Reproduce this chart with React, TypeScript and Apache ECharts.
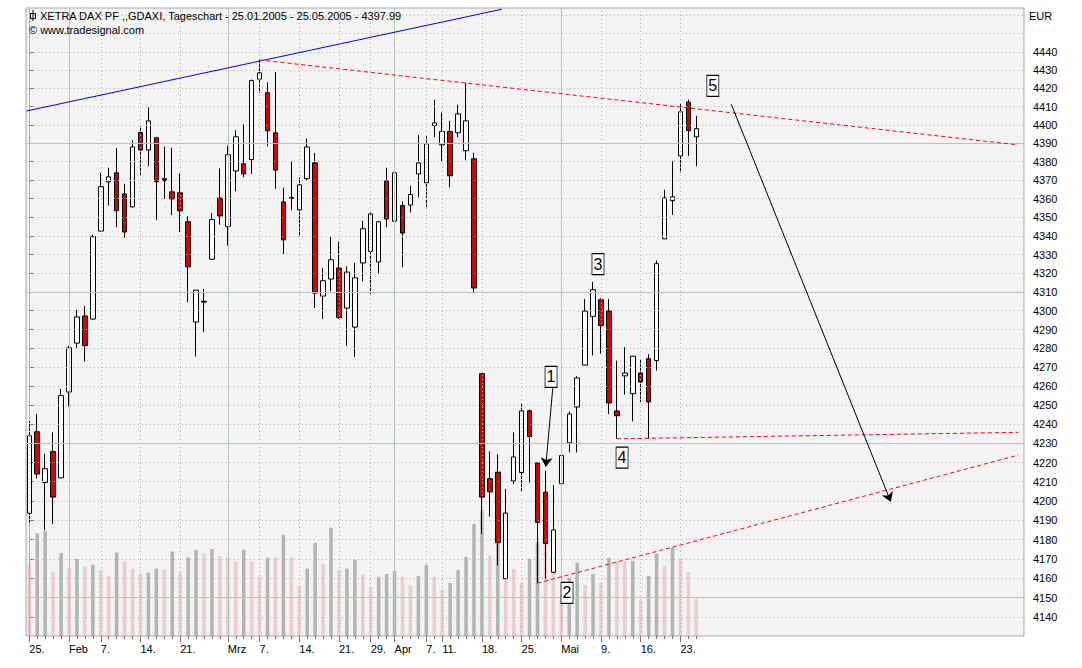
import React, { useEffect, useRef } from 'react';
import * as echarts from 'echarts';

// ---- daily OHLC, XETRA DAX 25.01.2005 - 25.05.2005 (85 trading days) ----
const OPEN = [
  4193.6, 4236.1, 4209.6, 4225.7, 4212.0, 4257.0, 4282.8, 4297.2, 4295.6, 4342.6,
  4369.1, 4374.0, 4362.6, 4355.6, 4395.9, 4386.4, 4393.0, 4370.8, 4363.7, 4363.2,
  4347.6, 4294.0, 4305.0, 4327.5, 4360.4, 4345.1, 4375.0, 4378.9, 4381.2, 4425.0,
  4417.6, 4395.7, 4358.3, 4360.6, 4354.0, 4370.8, 4379.4, 4307.8, 4316.9, 4322.8,
  4301.4, 4291.3, 4325.5, 4331.7, 4326.0, 4369.6, 4347.9, 4356.3, 4356.6, 4373.4,
  4368.6, 4399.7, 4389.2, 4396.4, 4395.7, 4386.0, 4381.6, 4266.6, 4211.6, 4215.0,
  4159.8, 4210.4, 4214.8, 4247.1, 4219.8, 4204.6, 4163.1, 4209.0, 4230.3, 4249.1,
  4271.2, 4297.0, 4305.9, 4299.8, 4247.0, 4265.5, 4256.1, 4267.0, 4274.5, 4273.6,
  4338.4, 4359.0, 4383.2, 4412.4, 4393.5,
];
const CLOSE = [
  4234.0, 4214.0, 4216.8, 4202.0, 4255.1, 4280.3, 4296.7, 4281.5, 4339.6, 4366.5,
  4371.8, 4353.6, 4342.1, 4388.0, 4386.4, 4402.2, 4369.1, 4369.7, 4359.9, 4353.5,
  4323.4, 4311.0, 4304.6, 4348.8, 4350.7, 4383.8, 4393.5, 4373.4, 4424.2, 4428.4,
  4396.8, 4375.5, 4337.8, 4360.2, 4367.5, 4388.0, 4309.4, 4316.0, 4327.2, 4296.4,
  4320.6, 4317.5, 4343.8, 4351.8, 4347.6, 4349.1, 4374.0, 4341.5, 4362.3, 4379.4,
  4389.7, 4401.1, 4396.4, 4372.4, 4406.0, 4402.2, 4312.1, 4202.0, 4204.7, 4178.4,
  4193.7, 4222.9, 4247.0, 4233.6, 4188.8, 4177.9, 4184.9, 4223.7, 4245.4, 4264.4,
  4299.8, 4311.2, 4292.1, 4251.2, 4244.5, 4267.0, 4275.9, 4262.3, 4251.7, 4325.1,
  4360.4, 4361.0, 4407.1, 4396.9, 4397.99,
];
const LOW = [
  4188.8, 4211.7, 4184.9, 4188.0, 4211.8, 4249.4, 4280.2, 4273.1, 4295.3, 4342.3,
  4356.4, 4344.6, 4338.9, 4355.3, 4372.5, 4377.5, 4348.4, 4359.9, 4351.1, 4342.0,
  4304.5, 4275.7, 4288.6, 4327.0, 4346.0, 4334.8, 4364.0, 4371.6, 4373.4, 4417.5,
  4388.3, 4365.4, 4330.3, 4353.8, 4339.7, 4370.0, 4301.4, 4295.6, 4310.3, 4295.6,
  4281.5, 4275.4, 4315.7, 4308.9, 4320.0, 4344.6, 4344.6, 4323.2, 4352.6, 4360.8,
  4354.8, 4393.3, 4380.3, 4366.1, 4393.3, 4380.8, 4309.4, 4182.9, 4191.9, 4166.6,
  4159.7, 4208.8, 4204.9, 4209.6, 4157.5, 4159.8, 4162.6, 4208.8, 4225.3, 4225.3,
  4271.2, 4276.3, 4277.2, 4245.4, 4232.4, 4255.6, 4241.6, 4251.7, 4232.4, 4268.3,
  4338.4, 4351.3, 4374.1, 4383.0, 4377.5,
];
const HIGH = [
  4241.6, 4245.5, 4224.6, 4235.8, 4258.6, 4281.4, 4300.5, 4302.6, 4340.6, 4374.0,
  4376.7, 4387.5, 4368.1, 4391.6, 4399.3, 4409.6, 4393.1, 4388.2, 4387.6, 4373.7,
  4350.5, 4311.0, 4311.7, 4352.3, 4376.3, 4388.7, 4397.1, 4400.3, 4424.8, 4435.5,
  4423.2, 4428.9, 4366.0, 4380.1, 4371.5, 4392.6, 4384.8, 4322.8, 4339.7, 4336.9,
  4323.7, 4325.5, 4348.1, 4352.5, 4347.6, 4376.7, 4393.5, 4358.6, 4367.0, 4394.5,
  4394.3, 4413.7, 4406.7, 4402.2, 4411.0, 4422.9, 4384.8, 4266.8, 4225.8, 4224.4,
  4206.2, 4235.8, 4250.7, 4247.7, 4219.8, 4215.7, 4208.3, 4236.3, 4246.8, 4265.3,
  4306.3, 4315.4, 4306.6, 4306.3, 4273.5, 4280.7, 4275.9, 4274.0, 4277.0, 4326.8,
  4364.9, 4380.3, 4411.5, 4413.8, 4405.0,
];
// volume (relative units) and its colour flag (1 = grey, 0 = pink)
const VOLUME = [
  28.9, 40.9, 41.9, 25.6, 33.0, 27.2, 30.7, 27.6, 28.3, 26.0,
  23.9, 33.2, 29.6, 26.8, 24.8, 25.2, 26.8, 26.4, 33.6, 25.6,
  31.2, 34.2, 32.8, 34.6, 32.0, 31.2, 29.7, 34.4, 29.7, 23.6,
  31.2, 31.2, 40.3, 31.2, 19.9, 26.8, 37.1, 28.8, 43.1, 26.2,
  26.8, 30.4, 24.4, 19.6, 23.4, 24.7, 25.9, 23.5, 20.0, 23.9,
  28.3, 23.5, 18.4, 21.1, 26.3, 31.4, 44.6, 50.2, 32.2, 36.9,
  23.1, 26.8, 21.1, 30.7, 37.5, 41.0, 25.5, 16.2, 23.2, 29.2,
  20.3, 24.7, 21.5, 31.1, 29.7, 29.9, 29.9, 14.5, 23.9, 32.8,
  27.9, 35.2, 30.9, 25.5, 15.0,
];
const VOL_UP = [
  0, 1, 1, 0, 1, 0, 1, 0, 1, 0,
  0, 1, 0, 0, 0, 1, 1, 0, 1, 0,
  1, 1, 0, 1, 0, 0, 0, 1, 0, 0,
  1, 0, 1, 0, 0, 1, 1, 0, 1, 0,
  1, 1, 0, 0, 1, 1, 1, 0, 0, 1,
  1, 0, 0, 1, 1, 1, 1, 1, 0, 1,
  0, 0, 0, 1, 1, 0, 0, 0, 1, 1,
  0, 1, 0, 1, 0, 0, 1, 0, 1, 1,
  0, 1, 0, 0, 0,
];

// ---- axes ----
const X_LABEL_IDX = [0, 5, 9, 14, 19, 25, 29, 34, 39, 43, 46, 50, 52, 57, 62, 67, 72, 77, 82];
const X_LABEL_TXT = ['25.', 'Feb', '7.', '14.', '21.', 'Mrz', '7.', '14.', '21.', '29.', 'Apr', '7.', '11.', '18.', '25.', 'Mai', '9.', '16.', '23.'];
const MONTH_IDX = [5, 25, 46, 67];
const Y_LABELS = [
  4140, 4150, 4160, 4170, 4180, 4190, 4200, 4210, 4220, 4230, 4240, 4250, 4260, 4270, 4280, 4290,
  4300, 4310, 4320, 4330, 4340, 4350, 4360, 4370, 4380, 4390, 4400, 4410, 4420, 4430, 4440,
];
const Y_EXTRA_GRID = [4450, 4460];
const Y_MAJOR = [4150, 4230, 4310, 4390];
const Y_MIN = 4130.4;
const Y_MAX = 4464.1;
const X_MIN = -0.4156;
const X_MAX = 125.27;

// ---- drawn annotations (day index, price) ----
const BLUE_LINE = [[-0.33, 4407.6], [59.5, 4463.4]];
const RED_LINES = [
  [[29, 4435.5], [124.4, 4389.2]],
  [[74, 4232.4], [124.56, 4235.8]],
  [[64, 4157.5], [124.56, 4223.9]],
];
const ARROWS = [
  [[88.41, 4411.2], [108.49, 4199.6]],
  [[65.92, 4258.9], [65.04, 4217.8]],
];
const BOXES: [number, number, string][] = [
  [65.71, 4265.0, '1'],
  [67.72, 4152.5, '2'],
  [71.62, 4324.9, '3'],
  [74.65, 4222.6, '4'],
  [86.08, 4421.3, '5'],
];

const FONT = '"Liberation Sans", Arial, sans-serif';

export default function App() {
  const ref = useRef<HTMLDivElement>(null);
  useEffect(() => {
    if (!ref.current) return;
    const chart = echarts.init(ref.current, null, { renderer: 'svg' });
    const L = Math.log;
    const allIdx = OPEN.map((_, i) => i);

    const candles = OPEN.map((o, i) => [i, L(o), L(CLOSE[i]), L(LOW[i]), L(HIGH[i])]);
    const vols = VOLUME.map((v, i) => ({
      value: [i, v],
      itemStyle: { color: VOL_UP[i] ? 'rgba(140,140,140,0.62)' : 'rgba(232,165,170,0.5)' },
    }));

    const dotted = { color: '#b0b0b0', type: [1, 3] as any, width: 1 };
    const solid = { color: '#b6c6b6', type: 'solid' as any, width: 1 };
    const gridLines: any[] = [];
    Y_LABELS.concat(Y_EXTRA_GRID).forEach((v) => gridLines.push({ yAxis: L(v), lineStyle: dotted }));
    Y_MAJOR.forEach((v) => gridLines.push({ yAxis: L(v), lineStyle: solid }));
    X_LABEL_IDX.filter((i) => MONTH_IDX.indexOf(i) < 0).forEach((i) => gridLines.push({ xAxis: i, lineStyle: dotted }));
    MONTH_IDX.forEach((i) => gridLines.push({ xAxis: i, lineStyle: solid }));

    const seg = (a: number[], b: number[], style: any, arrow = false) => [
      { coord: [a[0], L(a[1])], symbol: 'none', lineStyle: style },
      { coord: [b[0], L(b[1])], symbol: arrow ? 'arrow' : 'none', symbolSize: arrow ? 9 : 0 },
    ];
    const annot: any[] = [];
    annot.push(seg(BLUE_LINE[0], BLUE_LINE[1], { color: '#0000e6', type: 'solid', width: 1 }));
    RED_LINES.forEach((l) => annot.push(seg(l[0], l[1], { color: '#ff0000', type: [4, 3], width: 1 })));
    ARROWS.forEach((l) => annot.push(seg(l[0], l[1], { color: '#000', type: 'solid', width: 1 }, true)));

    const option: any = {
      animation: false,
      backgroundColor: '#ffffff',
      textStyle: { fontFamily: FONT },
      grid: {
        left: 26, right: 58, top: 8, bottom: 32,
        show: true, backgroundColor: '#f4f4f4', borderColor: '#a8a8a8', borderWidth: 1,
      },
      xAxis: [
        {
          type: 'value', min: X_MIN, max: X_MAX, position: 'bottom',
          axisLine: { show: false },
          axisTick: { show: true, customValues: allIdx, length: 3, lineStyle: { color: '#707070' } },
          axisLabel: { show: false },
          splitLine: { show: false },
        },
        {
          type: 'value', min: X_MIN, max: X_MAX, position: 'bottom',
          axisLine: { show: false },
          axisTick: { show: true, customValues: X_LABEL_IDX, length: 6, lineStyle: { color: '#707070' } },
          axisLabel: {
            show: true, customValues: X_LABEL_IDX, align: 'left', margin: 7,
            fontSize: 11, color: '#000', fontFamily: FONT,
            formatter: (v: number) => {
              const k = X_LABEL_IDX.indexOf(Math.round(v));
              return k >= 0 ? X_LABEL_TXT[k] : '';
            },
          },
          splitLine: { show: false },
        },
      ],
      yAxis: [
        {
          type: 'value', position: 'right', offset: 2, min: L(Y_MIN), max: L(Y_MAX),
          axisLine: { show: true, lineStyle: { color: '#909090', type: [1, 1] } },
          axisTick: { show: true, customValues: Y_LABELS.map(L), length: 4, lineStyle: { color: '#606060' } },
          axisLabel: {
            show: true, customValues: Y_LABELS.map(L), margin: 7, fontSize: 11, color: '#000', fontFamily: FONT,
            formatter: (v: number) => String(Math.round(Math.exp(v))),
          },
          splitLine: { show: false },
        },
        { type: 'value', min: 0, max: 250, show: false },
      ],
      graphic: [
        { type: 'rect', z: 20, shape: { x: 30.5, y: 13.5, width: 5, height: 5 }, style: { fill: 'none', stroke: '#000', lineWidth: 1 } },
        { type: 'line', z: 20, shape: { x1: 33, y1: 10, x2: 33, y2: 21 }, style: { stroke: '#000', lineWidth: 1 } },
        { type: 'text', z: 20, x: 40, y: 16, style: { text: 'XETRA DAX PF ,,GDAXI, Tageschart - 25.01.2005 - 25.05.2005 - 4397.99', font: '11px ' + FONT, fill: '#000', verticalAlign: 'middle' } },
        { type: 'text', z: 20, x: 29, y: 30, style: { text: '© www.tradesignal.com', font: '11px ' + FONT, fill: '#000', verticalAlign: 'middle' } },
        { type: 'text', z: 20, x: 1029, y: 16, style: { text: 'EUR', font: '11px ' + FONT, fill: '#000', verticalAlign: 'middle' } },
      ],
      series: [
        {
          type: 'line', data: [], z: 1, silent: true, xAxisIndex: 0, yAxisIndex: 0,
          markLine: { silent: true, precision: 10, symbol: ['none', 'none'], label: { show: false }, animation: false, data: gridLines },
        },
        {
          type: 'bar', data: vols, xAxisIndex: 0, yAxisIndex: 1, barWidth: 3.5, z: 2, silent: true,
        },
        {
          type: 'candlestick', data: candles, xAxisIndex: 0, yAxisIndex: 0, z: 3, silent: true,
          encode: { x: 0, y: [1, 2, 3, 4] }, barWidth: 5,
          itemStyle: { color: '#ffffff', color0: '#d40000', borderColor: '#000000', borderColor0: '#000000', borderWidth: 1 },
        },
        {
          type: 'line', data: [], z: 4, silent: true, xAxisIndex: 0, yAxisIndex: 0,
          markLine: { silent: true, precision: 10, symbol: ['none', 'none'], label: { show: false }, animation: false, data: annot },
        },
        {
          type: 'scatter', z: 5, silent: true, xAxisIndex: 0, yAxisIndex: 0,
          data: BOXES.map((b) => [b[0], L(b[1]), b[2]]),
          symbol: 'rect', symbolSize: [12, 21],
          itemStyle: { color: '#ffffff', borderColor: '#000000', borderWidth: 1, opacity: 1 },
          label: { show: true, position: 'inside', formatter: (p: any) => p.data[2], fontSize: 16, color: '#000', fontFamily: FONT },
        },
      ],
    };
    chart.setOption(option);
    return () => chart.dispose();
  }, []);
  return <div ref={ref} style={{ position: 'fixed', left: 0, top: 0, width: 1082, height: 668, background: '#fff' }} />;
}
